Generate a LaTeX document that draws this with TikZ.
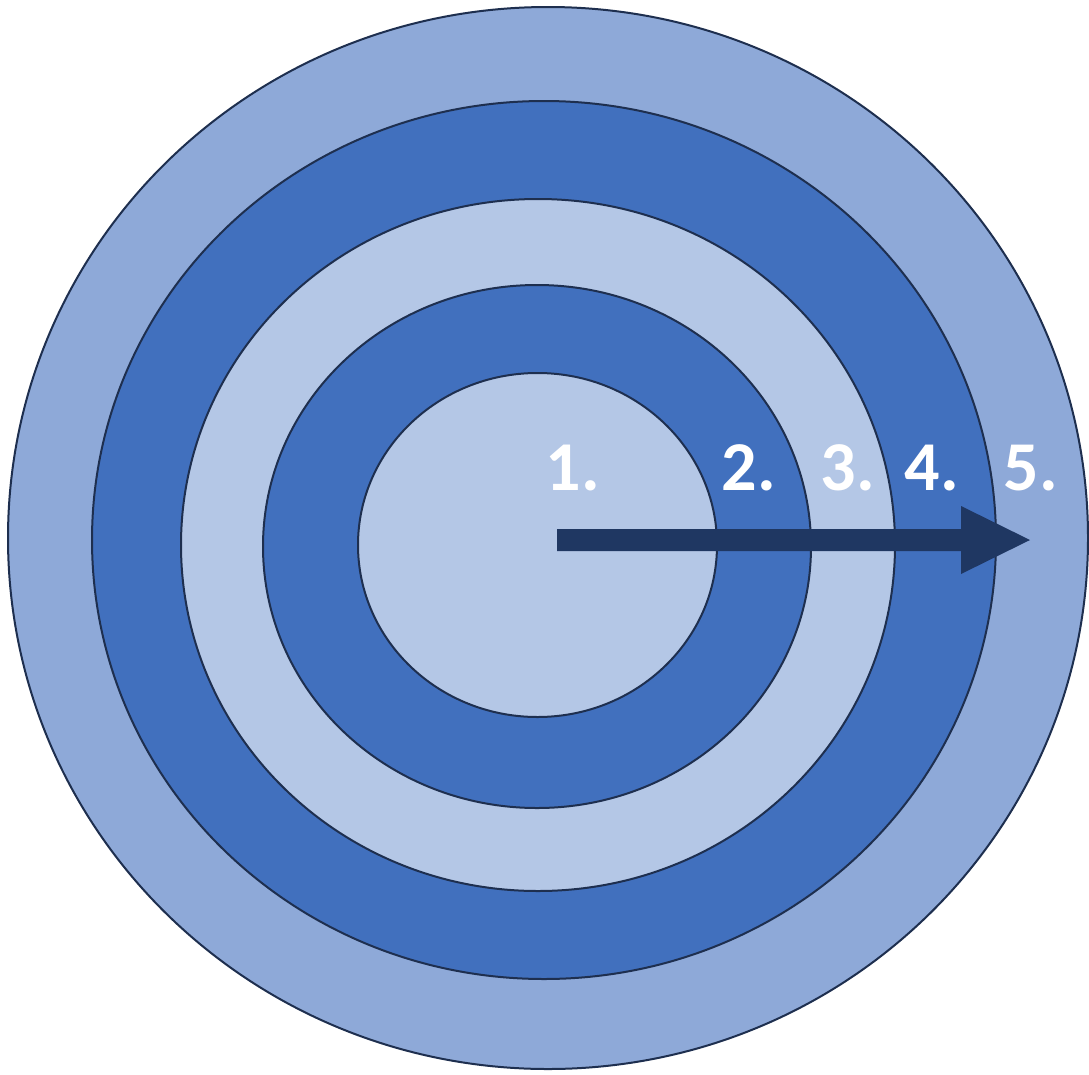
\documentclass[tikz,border=0pt]{standalone}
\usepackage{fontspec}
\setmainfont{Carlito}
\definecolor{ringA}{HTML}{8EA9D8}
\definecolor{ringB}{HTML}{4170BE}
\definecolor{ringC}{HTML}{B4C7E6}
\definecolor{edgeC}{HTML}{1E2F4F}
\definecolor{arrowC}{HTML}{1F3762}
\begin{document}
\begin{tikzpicture}[x=1pt,y=-1pt,
  ring/.style={draw=edgeC,line width=2pt},
  lbl/.style={text=white,font=\bfseries\fontsize{70}{70}\selectfont,anchor=base,inner sep=0pt}]
\useasboundingbox (0,0) rectangle (1089,1074);
\fill[white] (0,0) rectangle (1089,1074);
\draw[ring,fill=ringA] (548,538) ellipse [x radius=540,y radius=531];
\draw[ring,fill=ringB] (544,540) ellipse [x radius=452,y radius=439];
\draw[ring,fill=ringC] (538,545) ellipse [x radius=357,y radius=346];
\draw[ring,fill=ringB] (537,546.5) ellipse [x radius=274,y radius=261.5];
\draw[ring,fill=ringC] (537.5,545) ellipse [x radius=179.5,y radius=172];
\fill[arrowC] (557,529) -- (961,529) -- (961,506) -- (1030,540) -- (961,574) -- (961,551) -- (557,551) -- cycle;
\node[lbl] (l1) at (573,490) {1.};
\node[lbl] (l2) at (749,490) {2.};
\node[lbl] (l3) at (848,490) {3.};
\node[lbl] (l4) at (932,490) {4.};
\node[lbl] (l5) at (1031,490) {5.};
\end{tikzpicture}
\end{document}
